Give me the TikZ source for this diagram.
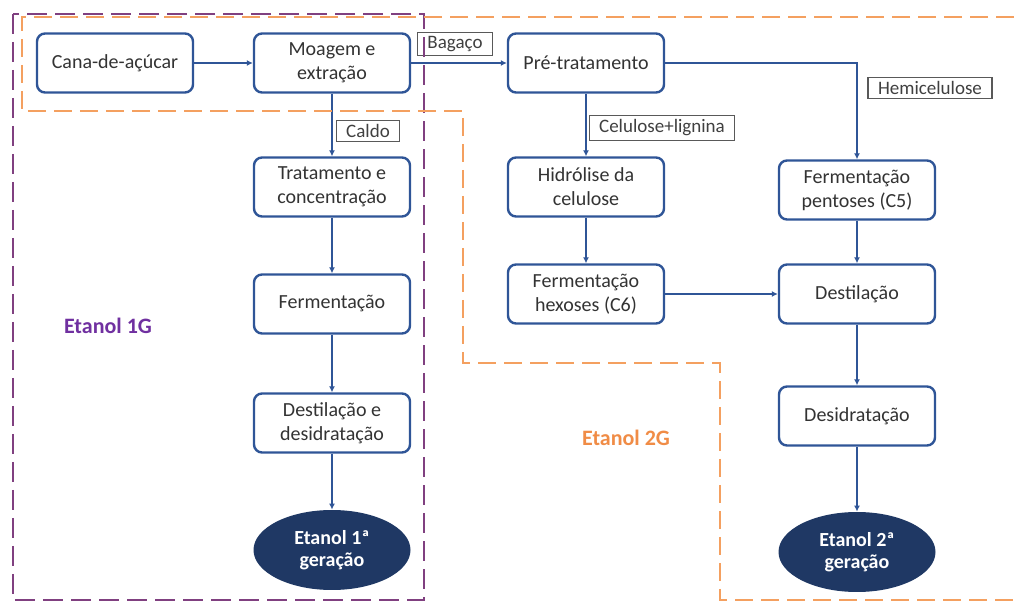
\documentclass[tikz,border=0pt]{standalone}
\usepackage{fontspec}
\setmainfont{Carlito}
\usetikzlibrary{shapes.geometric,arrows.meta}
\definecolor{boxblue}{RGB}{47,85,151}
\definecolor{navy}{RGB}{31,56,100}
\definecolor{lilac}{RGB}{128,64,128}
\definecolor{etpurple}{RGB}{112,48,160}
\definecolor{peach}{RGB}{244,160,96}
\definecolor{etorange}{RGB}{240,140,70}

\begin{document}
\begin{tikzpicture}[x=0.5pt,y=-0.5pt,
    proc/.style={draw=boxblue,line width=1.2pt,rounded corners=4pt,fill=white,minimum width=78pt,minimum height=29.5pt,align=center,text=black!80,font=\fontsize{10}{12}\selectfont},
    prod/.style={ellipse,fill=navy,minimum width=78.5pt,minimum height=40pt,inner sep=0pt,align=center,text=white,font=\bfseries\fontsize{10}{11}\selectfont},
    lbl/.style={draw=black!65,line width=0.6pt,fill=white,inner xsep=5pt,inner ysep=2pt,text=black!75,font=\fontsize{9.5}{10}\selectfont},
    flow/.style={draw=boxblue,line width=1pt,-{Latex[length=3pt,width=3pt]}}]
        \useasboundingbox (0,0) rectangle (1019,604);

        % 第一代流程
        \node[proc] (cana) at (115,63) {Cana-de-açúcar};
        \node[proc] (moagem) at (332,63) {Moagem e\\extração};
        \node[proc] (trat) at (332,187) {Tratamento e\\concentração};
        \node[proc] (ferm) at (332,304) {Fermentação};
        \node[proc] (dest1) at (332,423) {Destilação e\\desidratação};
        \node[prod] (et1) at (332,550) {Etanol 1ª\\geração};

        % 第二代流程
        \node[proc] (pre) at (586,63) {Pré-tratamento};
        \node[proc] (hidro) at (586,187) {Hidrólise da\\celulose};
        \node[proc] (hexo) at (586,294) {Fermentação\\hexoses (C6)};
        \node[proc] (pento) at (857,190) {Fermentação\\pentoses (C5)};
        \node[proc] (dest2) at (857,294) {Destilação};
        \node[proc] (desid) at (857,416) {Desidratação};
        \node[prod] (et2) at (857,552) {Etanol 2ª\\geração};

        % 连接箭头
        \draw[flow] (cana) -- (moagem);
        \draw[flow] (moagem) -- (pre);
        \draw[flow] (moagem) -- (trat);
        \draw[flow] (trat) -- (ferm);
        \draw[flow] (ferm) -- (dest1);
        \draw[flow] (dest1) -- (et1);
        \draw[flow] (pre) -- (hidro);
        \draw[flow] (pre.east) -| (pento);
        \draw[flow] (hidro) -- (hexo);
        \draw[flow] (hexo) -- (dest2);
        \draw[flow] (pento) -- (dest2);
        \draw[flow] (dest2) -- (desid);
        \draw[flow] (desid) -- (et2);

        % 物料标签
        \node[lbl] (bagaco) at (455,44) {Bagaço};
        \node[lbl] (caldo) at (368,131) {Caldo};
        \node[lbl] (celul) at (662,128) {Celulose+lignina};
        \node[lbl] (hemi) at (930,88) {Hemicelulose};

        % 虚线分区
        \draw[lilac,line width=1.4pt,dash pattern=on 10pt off 4pt] (13,14) rectangle (424,600);
        \draw[peach,line width=1.4pt,dash pattern=on 9pt off 4pt] (1040,17) -- (22,17) -- (22,111) -- (463,111) -- (463,363) -- (720,363) -- (720,600) -- (1040,600);
        \node[text=etpurple,font=\bfseries\fontsize{11}{13}\selectfont] (g1) at (108,326) {Etanol 1G};
        \node[text=etorange,font=\bfseries\fontsize{11}{13}\selectfont] (g2) at (626,438) {Etanol 2G};
      \end{tikzpicture}
\end{document}
